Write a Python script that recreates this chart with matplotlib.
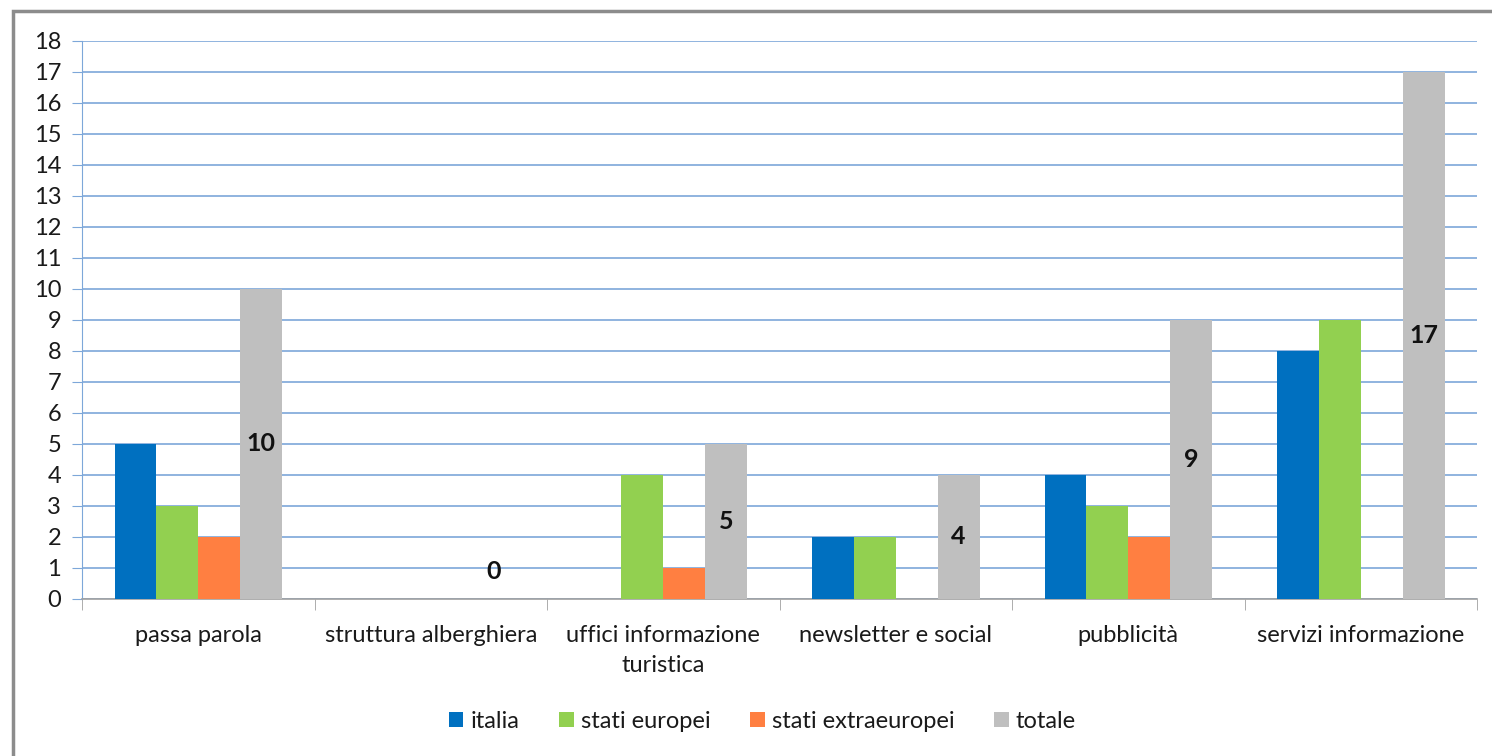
import numpy as np
import matplotlib.pyplot as plt
from matplotlib.patches import Rectangle

plt.rcParams['font.family'] = ['Lato', 'DejaVu Sans']

#categorie e valori
categories = ['passa parola', 'struttura alberghiera', 'uffici informazione\nturistica',
              'newsletter e social', 'pubblicità', 'servizi informazione']
italia = [5, 0, 0, 2, 4, 8]
europei = [3, 0, 4, 2, 3, 9]
extraeuropei = [2, 0, 1, 0, 2, 0]
totale = [10, 0, 5, 4, 9, 17]

series = [('italia', italia, '#0070C0'),
          ('stati europei', europei, '#92D050'),
          ('stati extraeuropei', extraeuropei, '#FF7F41'),
          ('totale', totale, '#BFBFBF')]

fs = 17

fig = plt.figure(figsize=(14.92, 7.56), dpi=100)
ax = fig.add_axes([0.055, 0.2077, 0.935, 0.7381])

x = np.arange(len(categories))
w = 0.18
for i, (name, vals, col) in enumerate(series):
    ax.bar(x + (i - 1.5) * w, vals, w, color=col, label=name, zorder=3)

#etichette sul totale
for xi, v in zip(x, totale):
    ypos = v / 2 if v > 0 else 0.9
    ax.text(xi + 1.5 * w, ypos, str(v), ha='center', va='center',
            fontsize=18, fontweight='bold', color='#111111', zorder=4)

ax.set_xlim(-0.5, len(categories) - 0.5)
ax.set_ylim(0, 18)
ax.set_yticks(range(0, 19))
ax.yaxis.grid(True, color='#7DA7D9', linewidth=1.2, zorder=0)
ax.set_axisbelow(True)

ax.set_xticks(x)
ax.set_xticklabels(categories, fontsize=fs, color='#1a1a1a', linespacing=1.5)
ax.tick_params(axis='x', length=0, pad=19)
ax.set_xticks(np.arange(-0.5, len(categories)), minor=True)
ax.tick_params(axis='x', which='minor', length=8, color='#A0A0A0')
ax.tick_params(axis='y', length=7, color='#7DA7D9', labelsize=fs, labelcolor='#1a1a1a', pad=8)

for s in ['top', 'right']:
    ax.spines[s].set_visible(False)
ax.spines['left'].set_color('#7DA7D9')
ax.spines['bottom'].set_color('#A0A0A0')
ax.spines['bottom'].set_linewidth(1.2)

leg = fig.legend(loc='center', bbox_to_anchor=(0.511, 0.046), ncol=4, frameon=False,
                 fontsize=fs, handlelength=0.6, handleheight=0.6, handletextpad=0.3,
                 columnspacing=1.7)
for t in leg.get_texts():
    t.set_color('#1a1a1a')

#cornice del grafico
fig.patches.append(Rectangle((13 / 1492, -0.1), 1.2, 1 - 11 / 756 + 0.1, transform=fig.transFigure,
                             fill=False, edgecolor='#8C8C8C', linewidth=2.5))

fig.savefig('out.png', dpi=100)
